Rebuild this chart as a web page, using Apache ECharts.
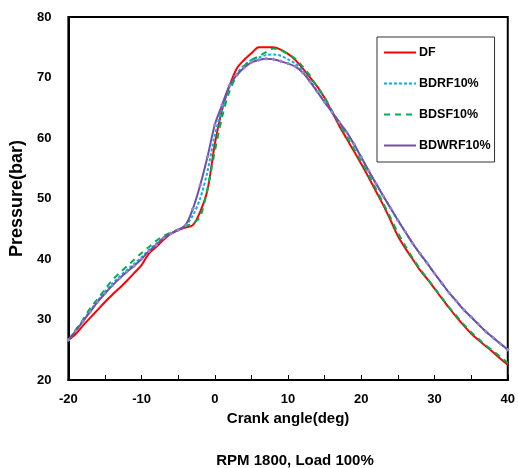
<!DOCTYPE html>
<html><head><meta charset="utf-8">
<script src="https://cdn.jsdelivr.net/npm/echarts@6/dist/echarts.min.js"></script>
<style>html,body{margin:0;padding:0;background:#fff}#c{width:518px;height:468px}</style>
</head><body><div id="c"></div>
<script>
const crankAngles = [-20,-19,-18,-17,-16,-15,-14,-13,-12,-11,-10,-9,-8,-7,-6,-5,-4,-3,-2,-1,0,1,2,3,4,5,6,7,8,9,10,11,12,13,14,15,16,17,18,19,20,21,22,23,24,25,26,27,28,29,30,31,32,33,34,35,36,37,38,39,40];
const DF = [26.6,27.6,29.0,30.3,31.6,32.9,34.1,35.2,36.4,37.7,39.0,40.9,42.0,43.2,44.2,44.8,45.2,45.6,47.8,51.4,59.0,64.7,68.6,71.5,72.9,74.0,75.0,75.0,75.0,74.6,73.9,72.9,71.5,70.0,68.5,66.6,64.3,62.0,59.9,57.8,55.7,53.5,51.2,48.9,46.4,43.8,41.8,40.0,38.2,36.7,35.1,33.5,31.9,30.4,29.0,27.7,26.6,25.6,24.6,23.5,22.5];
const BDRF10 = [26.6,28.2,29.8,31.5,33.1,34.6,35.9,37.1,38.2,39.2,40.3,41.5,42.5,43.5,44.2,44.8,45.5,47.2,50.0,54.5,60.5,64.8,68.4,70.6,72.0,72.9,73.3,73.7,73.8,73.6,73.0,72.3,71.1,69.5,67.7,66.0,64.3,62.6,60.9,58.9,56.8,54.6,52.5,50.4,48.4,46.4,44.5,42.6,40.9,39.3,37.6,36.0,34.4,33.0,31.6,30.4,29.2,28.0,27.0,26.0,25.0];
const BDSF10 = [26.6,28.3,30.0,31.9,33.4,35.0,36.5,37.7,38.8,39.9,41.0,42.0,43.0,43.8,44.4,44.9,45.4,45.9,47.0,51.6,57.8,63.5,67.7,70.3,71.9,72.9,73.5,74.2,74.8,74.5,73.9,73.1,71.8,70.3,68.4,66.7,64.5,62.3,60.3,58.2,56.1,53.9,51.6,49.2,46.8,44.3,42.2,40.2,38.4,36.8,35.2,33.6,32.0,30.6,29.2,27.9,26.8,25.7,24.8,23.8,22.8];
const BDWRF10 = [26.6,28.1,29.7,31.3,32.9,34.3,35.6,36.8,37.9,38.9,40.0,41.3,42.3,43.5,44.2,44.8,45.6,48.3,52.2,56.9,62.2,65.5,68.7,70.4,71.6,72.5,72.9,73.1,73.0,72.7,72.3,71.8,70.8,69.3,67.6,65.9,64.3,62.6,61.0,59.0,56.8,54.6,52.5,50.4,48.4,46.4,44.5,42.6,40.9,39.3,37.6,36.0,34.4,33.0,31.6,30.4,29.2,28.0,27.0,26.0,25.0];
const seriesNames = ['DF','BDRF10%','BDSF10%','BDWRF10%'];
const yTicks = [20,30,40,50,60,70,80];
const xTicks = [-20,-10,0,10,20,30,40];

const pair = arr => crankAngles.map((x,i)=>[x,arr[i]]);
const FONT = '"Liberation Sans", Arial, sans-serif';
const chart = echarts.init(document.getElementById('c'), null, {renderer:'canvas'});
chart.setOption({
  animation:false,
  backgroundColor:'#fff',
  grid:{left:67,right:10,top:17,bottom:88,show:true,borderColor:'#000',borderWidth:2,backgroundColor:'transparent'},
  title:{text:'RPM 1800, Load 100%',left:290,textAlign:'center',top:448,
    textStyle:{fontFamily:FONT,fontWeight:'bold',fontSize:15,color:'#000'}},
  legend:{orient:'vertical',left:377,top:37,padding:[9,4,10,6],itemGap:18,itemWidth:32,itemHeight:14,
    backgroundColor:'#fff',borderColor:'#333',borderWidth:1,
    data:seriesNames.map(n=>({name:n,itemStyle:{opacity:0}})),
    textStyle:{fontFamily:FONT,fontWeight:'bold',fontSize:12.5,color:'#000',padding:[0,0,0,-2]}},
  xAxis:{type:'value',min:xTicks[0],max:xTicks[xTicks.length-1],interval:5,
    name:'Crank angle(deg)',nameLocation:'middle',nameGap:30,
    nameTextStyle:{fontFamily:FONT,fontWeight:'bold',fontSize:15,color:'#000'},
    axisLine:{show:true,onZero:false,lineStyle:{color:'#000',width:2}},
    axisTick:{show:true,inside:true,length:5,lineStyle:{color:'#000',width:1}},
    axisLabel:{fontFamily:FONT,fontWeight:'bold',fontSize:13,color:'#000',margin:13,
      formatter:v=>xTicks.includes(v)?String(v):''},
    splitLine:{show:false}},
  yAxis:{type:'value',min:yTicks[0],max:yTicks[yTicks.length-1],interval:10,
    name:'Pressure(bar)',nameLocation:'middle',nameGap:36,
    nameTextStyle:{fontFamily:FONT,fontWeight:'bold',fontSize:18,color:'#000'},
    axisLine:{show:true,onZero:false,lineStyle:{color:'#000',width:2}},
    axisTick:{show:false},
    axisLabel:{fontFamily:FONT,fontWeight:'bold',fontSize:13,color:'#000',margin:17},
    splitLine:{show:false}},
  series:[
    {name:seriesNames[0],type:'line',data:pair(DF),showSymbol:false,symbol:'none',smooth:0.3,
      color:'#FF0000',lineStyle:{color:'#FF0000',width:2}},
    {name:seriesNames[1],type:'line',data:pair(BDRF10),showSymbol:false,symbol:'none',smooth:0.3,
      color:'#00B0F0',lineStyle:{color:'#00B0F0',width:2,type:[3,2]}},
    {name:seriesNames[2],type:'line',data:pair(BDSF10),showSymbol:false,symbol:'none',smooth:0.3,
      color:'#00B050',lineStyle:{color:'#00B050',width:2,type:[6,5]}},
    {name:seriesNames[3],type:'line',data:pair(BDWRF10),symbol:'diamond',symbolSize:4,showSymbol:true,smooth:0.3,
      color:'#7050A8',itemStyle:{color:'#9A86C6',borderWidth:0},lineStyle:{color:'#7050A8',width:2}}
  ]
});
</script></body></html>
